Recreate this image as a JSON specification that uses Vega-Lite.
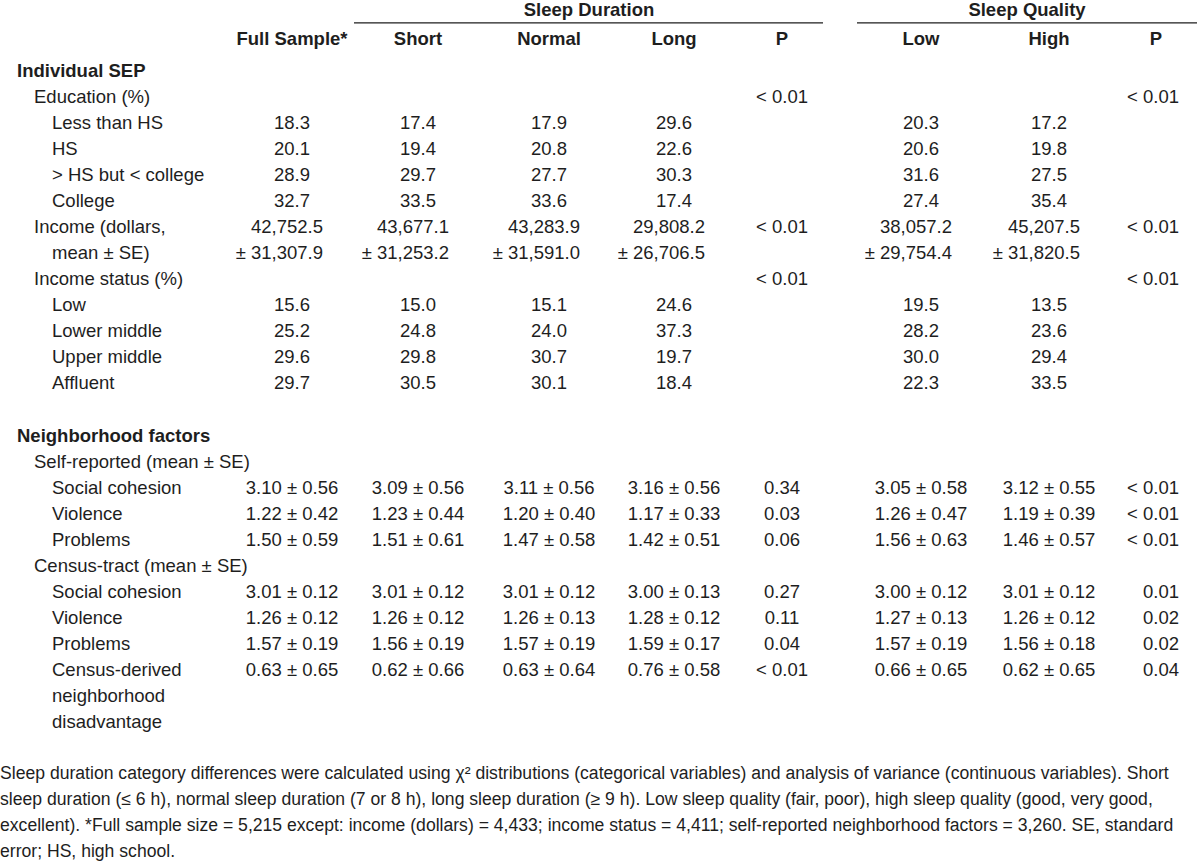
{
  "$schema": "https://vega.github.io/schema/vega-lite/v6.json",
  "autosize": {"type": "fit", "contains": "padding"},
  "width": 1200,
  "height": 861,
  "padding": 0,
  "background": "#ffffff",
  "config": {
    "view": {"stroke": null},
    "text": {"font": "Liberation Sans Narrow, Arial Narrow, Liberation Sans, sans-serif", "fontSize": 18.5, "color": "#1e1e1e", "baseline": "middle"}
  },
  "data": {
    "values": [
      {"line": 0, "c": 6, "text": "Sleep Duration", "kind": "title1"},
      {"line": 0, "c": 10, "text": "Sleep Quality", "kind": "title2"},
      {"line": 0, "c": 5, "c2": 8, "kind": "rule"},
      {"line": 0, "c": 9, "c2": 11, "kind": "rule"},
      {"line": 1, "c": 4, "text": "Full Sample*", "kind": "head"},
      {"line": 1, "c": 5, "text": "Short", "kind": "head"},
      {"line": 1, "c": 6, "text": "Normal", "kind": "head"},
      {"line": 1, "c": 7, "text": "Long", "kind": "head"},
      {"line": 1, "c": 8, "text": "P", "kind": "head"},
      {"line": 1, "c": 9, "text": "Low", "kind": "head"},
      {"line": 1, "c": 10, "text": "High", "kind": "head"},
      {"line": 1, "c": 11, "text": "P", "kind": "head"},

      {"line": 2, "c": 1, "text": "Individual SEP", "kind": "section"},
      {"line": 3, "c": 2, "text": "Education (%)", "kind": "label"},
      {"line": 3, "c": 8, "text": "< 0.01", "kind": "value"},
      {"line": 3, "c": 11, "text": "< 0.01", "kind": "pright"},

      {"line": 4, "c": 3, "text": "Less than HS", "kind": "label"},
      {"line": 4, "c": 4, "text": "18.3", "kind": "value"},
      {"line": 4, "c": 5, "text": "17.4", "kind": "value"},
      {"line": 4, "c": 6, "text": "17.9", "kind": "value"},
      {"line": 4, "c": 7, "text": "29.6", "kind": "value"},
      {"line": 4, "c": 9, "text": "20.3", "kind": "value"},
      {"line": 4, "c": 10, "text": "17.2", "kind": "value"},

      {"line": 5, "c": 3, "text": "HS", "kind": "label"},
      {"line": 5, "c": 4, "text": "20.1", "kind": "value"},
      {"line": 5, "c": 5, "text": "19.4", "kind": "value"},
      {"line": 5, "c": 6, "text": "20.8", "kind": "value"},
      {"line": 5, "c": 7, "text": "22.6", "kind": "value"},
      {"line": 5, "c": 9, "text": "20.6", "kind": "value"},
      {"line": 5, "c": 10, "text": "19.8", "kind": "value"},

      {"line": 6, "c": 3, "text": "> HS but < college", "kind": "label"},
      {"line": 6, "c": 4, "text": "28.9", "kind": "value"},
      {"line": 6, "c": 5, "text": "29.7", "kind": "value"},
      {"line": 6, "c": 6, "text": "27.7", "kind": "value"},
      {"line": 6, "c": 7, "text": "30.3", "kind": "value"},
      {"line": 6, "c": 9, "text": "31.6", "kind": "value"},
      {"line": 6, "c": 10, "text": "27.5", "kind": "value"},

      {"line": 7, "c": 3, "text": "College", "kind": "label"},
      {"line": 7, "c": 4, "text": "32.7", "kind": "value"},
      {"line": 7, "c": 5, "text": "33.5", "kind": "value"},
      {"line": 7, "c": 6, "text": "33.6", "kind": "value"},
      {"line": 7, "c": 7, "text": "17.4", "kind": "value"},
      {"line": 7, "c": 9, "text": "27.4", "kind": "value"},
      {"line": 7, "c": 10, "text": "35.4", "kind": "value"},

      {"line": 8, "c": 2, "text": "Income (dollars,", "kind": "label"},
      {"line": 8, "c": 4, "text": "42,752.5", "kind": "income"},
      {"line": 8, "c": 5, "text": "43,677.1", "kind": "income"},
      {"line": 8, "c": 6, "text": "43,283.9", "kind": "income"},
      {"line": 8, "c": 7, "text": "29,808.2", "kind": "income"},
      {"line": 8, "c": 8, "text": "< 0.01", "kind": "value"},
      {"line": 8, "c": 9, "text": "38,057.2", "kind": "income"},
      {"line": 8, "c": 10, "text": "45,207.5", "kind": "income"},
      {"line": 8, "c": 11, "text": "< 0.01", "kind": "pright"},
      {"line": 9, "c": 3, "text": "mean ± SE)", "kind": "label"},
      {"line": 9, "c": 4, "text": "± 31,307.9", "kind": "income"},
      {"line": 9, "c": 5, "text": "± 31,253.2", "kind": "income"},
      {"line": 9, "c": 6, "text": "± 31,591.0", "kind": "income"},
      {"line": 9, "c": 7, "text": "± 26,706.5", "kind": "income"},
      {"line": 9, "c": 9, "text": "± 29,754.4", "kind": "income"},
      {"line": 9, "c": 10, "text": "± 31,820.5", "kind": "income"},

      {"line": 10, "c": 2, "text": "Income status (%)", "kind": "label"},
      {"line": 10, "c": 8, "text": "< 0.01", "kind": "value"},
      {"line": 10, "c": 11, "text": "< 0.01", "kind": "pright"},

      {"line": 11, "c": 3, "text": "Low", "kind": "label"},
      {"line": 11, "c": 4, "text": "15.6", "kind": "value"},
      {"line": 11, "c": 5, "text": "15.0", "kind": "value"},
      {"line": 11, "c": 6, "text": "15.1", "kind": "value"},
      {"line": 11, "c": 7, "text": "24.6", "kind": "value"},
      {"line": 11, "c": 9, "text": "19.5", "kind": "value"},
      {"line": 11, "c": 10, "text": "13.5", "kind": "value"},

      {"line": 12, "c": 3, "text": "Lower middle", "kind": "label"},
      {"line": 12, "c": 4, "text": "25.2", "kind": "value"},
      {"line": 12, "c": 5, "text": "24.8", "kind": "value"},
      {"line": 12, "c": 6, "text": "24.0", "kind": "value"},
      {"line": 12, "c": 7, "text": "37.3", "kind": "value"},
      {"line": 12, "c": 9, "text": "28.2", "kind": "value"},
      {"line": 12, "c": 10, "text": "23.6", "kind": "value"},

      {"line": 13, "c": 3, "text": "Upper middle", "kind": "label"},
      {"line": 13, "c": 4, "text": "29.6", "kind": "value"},
      {"line": 13, "c": 5, "text": "29.8", "kind": "value"},
      {"line": 13, "c": 6, "text": "30.7", "kind": "value"},
      {"line": 13, "c": 7, "text": "19.7", "kind": "value"},
      {"line": 13, "c": 9, "text": "30.0", "kind": "value"},
      {"line": 13, "c": 10, "text": "29.4", "kind": "value"},

      {"line": 14, "c": 3, "text": " Affluent", "kind": "label"},
      {"line": 14, "c": 4, "text": "29.7", "kind": "value"},
      {"line": 14, "c": 5, "text": "30.5", "kind": "value"},
      {"line": 14, "c": 6, "text": "30.1", "kind": "value"},
      {"line": 14, "c": 7, "text": "18.4", "kind": "value"},
      {"line": 14, "c": 9, "text": "22.3", "kind": "value"},
      {"line": 14, "c": 10, "text": "33.5", "kind": "value"},

      {"line": 16, "c": 1, "text": "Neighborhood factors", "kind": "section"},
      {"line": 17, "c": 2, "text": "Self-reported (mean ± SE)", "kind": "label"},

      {"line": 18, "c": 3, "text": "Social cohesion", "kind": "label"},
      {"line": 18, "c": 4, "text": "3.10 ± 0.56", "kind": "value"},
      {"line": 18, "c": 5, "text": "3.09 ± 0.56", "kind": "value"},
      {"line": 18, "c": 6, "text": "3.11 ± 0.56", "kind": "value"},
      {"line": 18, "c": 7, "text": "3.16 ± 0.56", "kind": "value"},
      {"line": 18, "c": 8, "text": "0.34", "kind": "value"},
      {"line": 18, "c": 9, "text": "3.05 ± 0.58", "kind": "value"},
      {"line": 18, "c": 10, "text": "3.12 ± 0.55", "kind": "value"},
      {"line": 18, "c": 11, "text": "< 0.01", "kind": "pright"},

      {"line": 19, "c": 3, "text": "Violence", "kind": "label"},
      {"line": 19, "c": 4, "text": "1.22 ± 0.42", "kind": "value"},
      {"line": 19, "c": 5, "text": "1.23 ± 0.44", "kind": "value"},
      {"line": 19, "c": 6, "text": "1.20 ± 0.40", "kind": "value"},
      {"line": 19, "c": 7, "text": "1.17 ± 0.33", "kind": "value"},
      {"line": 19, "c": 8, "text": "0.03", "kind": "value"},
      {"line": 19, "c": 9, "text": "1.26 ± 0.47", "kind": "value"},
      {"line": 19, "c": 10, "text": "1.19 ± 0.39", "kind": "value"},
      {"line": 19, "c": 11, "text": "< 0.01", "kind": "pright"},

      {"line": 20, "c": 3, "text": "Problems", "kind": "label"},
      {"line": 20, "c": 4, "text": "1.50 ± 0.59", "kind": "value"},
      {"line": 20, "c": 5, "text": "1.51 ± 0.61", "kind": "value"},
      {"line": 20, "c": 6, "text": "1.47 ± 0.58", "kind": "value"},
      {"line": 20, "c": 7, "text": "1.42 ± 0.51", "kind": "value"},
      {"line": 20, "c": 8, "text": "0.06", "kind": "value"},
      {"line": 20, "c": 9, "text": "1.56 ± 0.63", "kind": "value"},
      {"line": 20, "c": 10, "text": "1.46 ± 0.57", "kind": "value"},
      {"line": 20, "c": 11, "text": "< 0.01", "kind": "pright"},

      {"line": 21, "c": 2, "text": "Census-tract (mean ± SE)", "kind": "label"},

      {"line": 22, "c": 3, "text": "Social cohesion", "kind": "label"},
      {"line": 22, "c": 4, "text": "3.01 ± 0.12", "kind": "value"},
      {"line": 22, "c": 5, "text": "3.01 ± 0.12", "kind": "value"},
      {"line": 22, "c": 6, "text": "3.01 ± 0.12", "kind": "value"},
      {"line": 22, "c": 7, "text": "3.00 ± 0.13", "kind": "value"},
      {"line": 22, "c": 8, "text": "0.27", "kind": "value"},
      {"line": 22, "c": 9, "text": "3.00 ± 0.12", "kind": "value"},
      {"line": 22, "c": 10, "text": "3.01 ± 0.12", "kind": "value"},
      {"line": 22, "c": 11, "text": "0.01", "kind": "pright"},

      {"line": 23, "c": 3, "text": "Violence", "kind": "label"},
      {"line": 23, "c": 4, "text": "1.26 ± 0.12", "kind": "value"},
      {"line": 23, "c": 5, "text": "1.26 ± 0.12", "kind": "value"},
      {"line": 23, "c": 6, "text": "1.26 ± 0.13", "kind": "value"},
      {"line": 23, "c": 7, "text": "1.28 ± 0.12", "kind": "value"},
      {"line": 23, "c": 8, "text": "0.11", "kind": "value"},
      {"line": 23, "c": 9, "text": "1.27 ± 0.13", "kind": "value"},
      {"line": 23, "c": 10, "text": "1.26 ± 0.12", "kind": "value"},
      {"line": 23, "c": 11, "text": "0.02", "kind": "pright"},

      {"line": 24, "c": 3, "text": "Problems", "kind": "label"},
      {"line": 24, "c": 4, "text": "1.57 ± 0.19", "kind": "value"},
      {"line": 24, "c": 5, "text": "1.56 ± 0.19", "kind": "value"},
      {"line": 24, "c": 6, "text": "1.57 ± 0.19", "kind": "value"},
      {"line": 24, "c": 7, "text": "1.59 ± 0.17", "kind": "value"},
      {"line": 24, "c": 8, "text": "0.04", "kind": "value"},
      {"line": 24, "c": 9, "text": "1.57 ± 0.19", "kind": "value"},
      {"line": 24, "c": 10, "text": "1.56 ± 0.18", "kind": "value"},
      {"line": 24, "c": 11, "text": "0.02", "kind": "pright"},

      {"line": 25, "c": 3, "text": "Census-derived", "kind": "label"},
      {"line": 25, "c": 4, "text": "0.63 ± 0.65", "kind": "value"},
      {"line": 25, "c": 5, "text": "0.62 ± 0.66", "kind": "value"},
      {"line": 25, "c": 6, "text": "0.63 ± 0.64", "kind": "value"},
      {"line": 25, "c": 7, "text": "0.76 ± 0.58", "kind": "value"},
      {"line": 25, "c": 8, "text": "< 0.01", "kind": "value"},
      {"line": 25, "c": 9, "text": "0.66 ± 0.65", "kind": "value"},
      {"line": 25, "c": 10, "text": "0.62 ± 0.65", "kind": "value"},
      {"line": 25, "c": 11, "text": "0.04", "kind": "pright"},
      {"line": 26, "c": 3, "text": "neighborhood", "kind": "label"},
      {"line": 27, "c": 3, "text": "disadvantage", "kind": "label"},

      {"line": 29, "c": 0, "text": "Sleep duration category differences were calculated using χ² distributions (categorical variables) and analysis of variance (continuous variables). Short", "kind": "foot"},
      {"line": 30, "c": 0, "text": "sleep duration (≤ 6 h), normal sleep duration (7 or 8 h), long sleep duration (≥ 9 h). Low sleep quality (fair, poor), high sleep quality (good, very good,", "kind": "foot"},
      {"line": 31, "c": 0, "text": "excellent). *Full sample size = 5,215 except: income (dollars) = 4,433; income status = 4,411; self-reported neighborhood factors = 3,260. SE, standard", "kind": "foot"},
      {"line": 32, "c": 0, "text": "error; HS, high school.", "kind": "foot"}
    ]
  },
  "encoding": {
    "x": {"field": "c", "type": "quantitative", "axis": null,
      "scale": {"domain": [0, 1, 2, 3, 4, 5, 6, 7, 8, 9, 10, 11], "range": [0, 17, 34, 52, 292, 418, 549, 674, 782, 921, 1049, 1156], "zero": false, "nice": false}},
    "y": {"field": "line", "type": "quantitative", "axis": null,
      "scale": {"domain": [2, 27], "range": [71, 722], "zero": false, "nice": false}}
  },
  "layer": [
    {"transform": [{"filter": "datum.kind === 'rule'"}],
     "mark": {"type": "rule", "color": "#1e1e1e", "strokeWidth": 1.3, "xOffset": -64, "x2Offset": 41, "yOffset": 4},
     "encoding": {"x2": {"field": "c2"}}},
    {"transform": [{"filter": "datum.kind === 'title1'"}],
     "mark": {"type": "text", "fontWeight": "bold", "align": "center", "dx": 40, "dy": -9},
     "encoding": {"text": {"field": "text"}}},
    {"transform": [{"filter": "datum.kind === 'title2'"}],
     "mark": {"type": "text", "fontWeight": "bold", "align": "center", "dx": -22, "dy": -9},
     "encoding": {"text": {"field": "text"}}},
    {"transform": [{"filter": "datum.kind === 'head'"}],
     "mark": {"type": "text", "fontWeight": "bold", "align": "center", "dy": -6},
     "encoding": {"text": {"field": "text"}}},
    {"transform": [{"filter": "datum.kind === 'section'"}],
     "mark": {"type": "text", "fontWeight": "bold", "align": "left"},
     "encoding": {"text": {"field": "text"}}},
    {"transform": [{"filter": "datum.kind === 'label'"}],
     "mark": {"type": "text", "align": "left"},
     "encoding": {"text": {"field": "text"}}},
    {"transform": [{"filter": "datum.kind === 'foot'"}],
     "mark": {"type": "text", "align": "left", "fontSize": 17.6},
     "encoding": {"text": {"field": "text"}}},
    {"transform": [{"filter": "datum.kind === 'value'"}],
     "mark": {"type": "text", "align": "center"},
     "encoding": {"text": {"field": "text"}}},
    {"transform": [{"filter": "datum.kind === 'income'"}],
     "mark": {"type": "text", "align": "right", "dx": 31},
     "encoding": {"text": {"field": "text"}}},
    {"transform": [{"filter": "datum.kind === 'pright'"}],
     "mark": {"type": "text", "align": "right", "dx": 23},
     "encoding": {"text": {"field": "text"}}}
  ]
}
